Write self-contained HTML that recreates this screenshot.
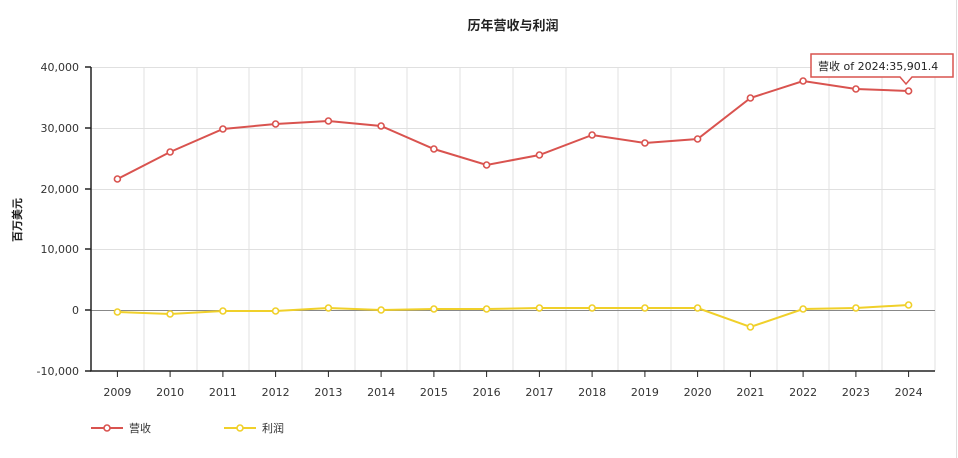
<!DOCTYPE html>
<html><head><meta charset="utf-8"><style>
body{margin:0;background:#fff;}
svg{display:block;font-family:"DejaVu Sans","Noto Sans CJK SC",sans-serif;}
</style></head><body>
<svg width="958" height="458" viewBox="0 0 958 458">
<rect width="958" height="458" fill="#fff"/>
<line x1="956.5" y1="0" x2="956.5" y2="458" stroke="#ddd"/>
<text x="513" y="30" text-anchor="middle" font-size="13" font-weight="bold" fill="#222">历年营收与利润</text>
<g stroke="#e0e0e0" stroke-width="1">
<line x1="91" y1="67.5" x2="935" y2="67.5"/>
<line x1="91" y1="128.5" x2="935" y2="128.5"/>
<line x1="91" y1="189.5" x2="935" y2="189.5"/>
<line x1="91" y1="249.5" x2="935" y2="249.5"/>
<line x1="144" y1="67" x2="144" y2="371"/><line x1="197" y1="67" x2="197" y2="371"/>
<line x1="249" y1="67" x2="249" y2="371"/><line x1="302" y1="67" x2="302" y2="371"/>
<line x1="355" y1="67" x2="355" y2="371"/><line x1="407" y1="67" x2="407" y2="371"/>
<line x1="460" y1="67" x2="460" y2="371"/><line x1="513" y1="67" x2="513" y2="371"/>
<line x1="566" y1="67" x2="566" y2="371"/><line x1="618" y1="67" x2="618" y2="371"/>
<line x1="671" y1="67" x2="671" y2="371"/><line x1="724" y1="67" x2="724" y2="371"/>
<line x1="777" y1="67" x2="777" y2="371"/><line x1="829" y1="67" x2="829" y2="371"/>
<line x1="882" y1="67" x2="882" y2="371"/><line x1="935" y1="67" x2="935" y2="371"/>
</g>
<line x1="91" y1="310.5" x2="935" y2="310.5" stroke="#888"/>
<g stroke="#222" stroke-width="1.5">
<line x1="91" y1="67" x2="91" y2="371"/>
<line x1="90" y1="371" x2="935" y2="371"/>
<line x1="85" y1="67" x2="91" y2="67"/><line x1="85" y1="128" x2="91" y2="128"/>
<line x1="85" y1="189" x2="91" y2="189"/><line x1="85" y1="249" x2="91" y2="249"/>
<line x1="85" y1="310" x2="91" y2="310"/><line x1="85" y1="371" x2="91" y2="371"/>
</g>
<g stroke="#222" stroke-width="1">
<line x1="117.4" y1="371" x2="117.4" y2="377"/><line x1="170.1" y1="371" x2="170.1" y2="377"/>
<line x1="222.9" y1="371" x2="222.9" y2="377"/><line x1="275.6" y1="371" x2="275.6" y2="377"/>
<line x1="328.4" y1="371" x2="328.4" y2="377"/><line x1="381.1" y1="371" x2="381.1" y2="377"/>
<line x1="433.9" y1="371" x2="433.9" y2="377"/><line x1="486.6" y1="371" x2="486.6" y2="377"/>
<line x1="539.4" y1="371" x2="539.4" y2="377"/><line x1="592.1" y1="371" x2="592.1" y2="377"/>
<line x1="644.9" y1="371" x2="644.9" y2="377"/><line x1="697.6" y1="371" x2="697.6" y2="377"/>
<line x1="750.4" y1="371" x2="750.4" y2="377"/><line x1="803.1" y1="371" x2="803.1" y2="377"/>
<line x1="855.9" y1="371" x2="855.9" y2="377"/><line x1="908.6" y1="371" x2="908.6" y2="377"/>
</g>
<g font-size="11" fill="#333" text-anchor="end">
<text x="79" y="71">40,000</text><text x="79" y="132">30,000</text>
<text x="79" y="193">20,000</text><text x="79" y="253">10,000</text>
<text x="79" y="314">0</text><text x="79" y="375">-10,000</text>
</g>
<g font-size="11" fill="#333" text-anchor="middle">
<text x="117.4" y="396">2009</text><text x="170.1" y="396">2010</text><text x="222.9" y="396">2011</text>
<text x="275.6" y="396">2012</text><text x="328.4" y="396">2013</text><text x="381.1" y="396">2014</text>
<text x="433.9" y="396">2015</text><text x="486.6" y="396">2016</text><text x="539.4" y="396">2017</text>
<text x="592.1" y="396">2018</text><text x="644.9" y="396">2019</text><text x="697.6" y="396">2020</text>
<text x="750.4" y="396">2021</text><text x="803.1" y="396">2022</text><text x="855.9" y="396">2023</text>
<text x="908.6" y="396">2024</text>
</g>
<text transform="translate(21,220) rotate(-90)" text-anchor="middle" font-size="11" font-weight="bold" fill="#222">百万美元</text>
<polyline fill="none" stroke="#d9534f" stroke-width="2" points="117.4,179 170.1,152 222.9,129 275.6,124 328.4,121 381.1,126 433.9,149 486.6,165 539.4,155 592.1,135 644.9,143 697.6,139 750.4,98 803.1,81 855.9,89 908.6,91"/>
<g fill="#fff" stroke="#d9534f" stroke-width="1.6">
<circle cx="117.4" cy="179" r="3"/><circle cx="170.1" cy="152" r="3"/><circle cx="222.9" cy="129" r="3"/><circle cx="275.6" cy="124" r="3"/><circle cx="328.4" cy="121" r="3"/><circle cx="381.1" cy="126" r="3"/><circle cx="433.9" cy="149" r="3"/><circle cx="486.6" cy="165" r="3"/><circle cx="539.4" cy="155" r="3"/><circle cx="592.1" cy="135" r="3"/><circle cx="644.9" cy="143" r="3"/><circle cx="697.6" cy="139" r="3"/><circle cx="750.4" cy="98" r="3"/><circle cx="803.1" cy="81" r="3"/><circle cx="855.9" cy="89" r="3"/><circle cx="908.6" cy="91" r="3"/>
</g>
<polyline fill="none" stroke="#f0d02a" stroke-width="2" points="117.4,312 170.1,314 222.9,311 275.6,311 328.4,308 381.1,310 433.9,309 486.6,309 539.4,308 592.1,308 644.9,308 697.6,308 750.4,327 803.1,309 855.9,308 908.6,305"/>
<g fill="#fff" stroke="#f0d02a" stroke-width="1.6">
<circle cx="117.4" cy="312" r="3"/><circle cx="170.1" cy="314" r="3"/><circle cx="222.9" cy="311" r="3"/><circle cx="275.6" cy="311" r="3"/><circle cx="328.4" cy="308" r="3"/><circle cx="381.1" cy="310" r="3"/><circle cx="433.9" cy="309" r="3"/><circle cx="486.6" cy="309" r="3"/><circle cx="539.4" cy="308" r="3"/><circle cx="592.1" cy="308" r="3"/><circle cx="644.9" cy="308" r="3"/><circle cx="697.6" cy="308" r="3"/><circle cx="750.4" cy="327" r="3"/><circle cx="803.1" cy="309" r="3"/><circle cx="855.9" cy="308" r="3"/><circle cx="908.6" cy="305" r="3"/>
</g>
<path d="M811,54 H953 V77 H912 L906,84 L900,77 H811 Z" fill="#fff" stroke="#d9534f" stroke-width="1.5"/>
<text x="818" y="70" font-size="11" fill="#222">营收 of 2024:35,901.4</text>
<line x1="91" y1="428" x2="123" y2="428" stroke="#d9534f" stroke-width="2"/>
<circle cx="107" cy="428" r="3" fill="#fff" stroke="#d9534f" stroke-width="1.6"/>
<text x="129" y="432" font-size="11" fill="#333">营收</text>
<line x1="224" y1="428" x2="256" y2="428" stroke="#f0d02a" stroke-width="2"/>
<circle cx="240" cy="428" r="3" fill="#fff" stroke="#f0d02a" stroke-width="1.6"/>
<text x="262" y="432" font-size="11" fill="#333">利润</text>
</svg>
</body></html>
